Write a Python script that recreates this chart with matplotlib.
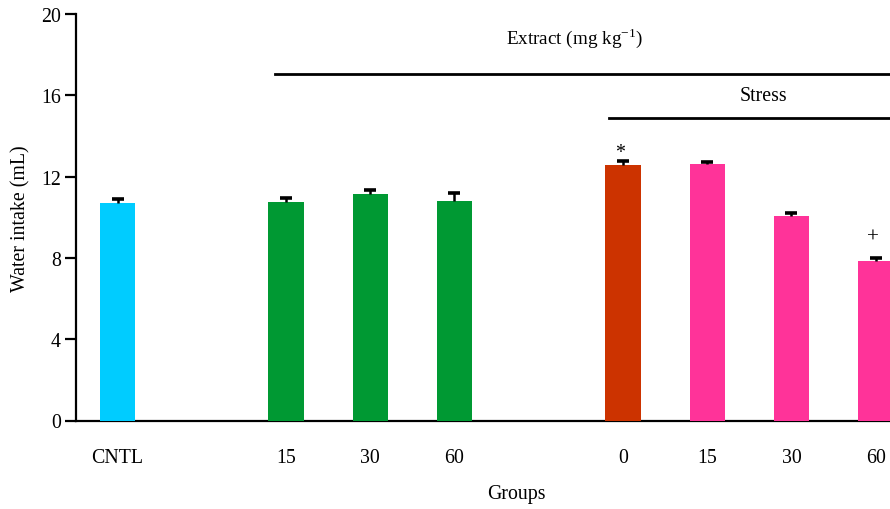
import matplotlib
matplotlib.use("Agg")
import matplotlib.pyplot as plt
import numpy as np

plt.rcParams['font.family'] = ['Liberation Serif', 'DejaVu Serif']
plt.rcParams['mathtext.fontset'] = 'custom'
plt.rcParams['mathtext.rm'] = 'Liberation Serif'

categories = ["CNTL", "15", "30", "60", "0", "15", "30", "60"]
positions = [0, 2, 3, 4, 6, 7, 8, 9]
values = [10.71, 10.74, 11.13, 10.79, 12.55, 12.63, 10.07, 7.85]
errors = [0.2, 0.2, 0.21, 0.4, 0.2, 0.08, 0.13, 0.13]
colors = ["#00CCFF", "#009933", "#009933", "#009933", "#CC3300", "#FF3399", "#FF3399", "#FF3399"]

FS = 14.3

fig = plt.figure(figsize=(8.9, 5.1), dpi=100)
ax = fig.add_axes([76/890, 1 - 421.5/510, 1 - 76/890, (421.5 - 15)/510])

ax.bar(positions, values, width=0.42, color=colors, zorder=3)
eb = ax.errorbar(positions, values, yerr=[np.zeros(len(values)), errors], fmt='none',
                 ecolor='black', elinewidth=1.8, capsize=4.5, capthick=2.6, zorder=4)
# hide the lower caps (one-sided error bars)
caps = eb[1]
if len(caps) == 2:
    caps[0].set_visible(False)

ax.set_xlim(-0.493, 9.17)
ax.set_ylim(0, 20)
ax.set_yticks([0, 4, 8, 12, 16, 20])
ax.set_xticks(positions)
ax.set_xticklabels(categories)
ax.tick_params(axis='x', length=0, pad=20, labelsize=FS)
ax.tick_params(axis='y', length=8, width=1.6, labelsize=FS, pad=3)

for s in ['top', 'right']:
    ax.spines[s].set_visible(False)
ax.spines['left'].set_linewidth(1.6)
ax.spines['bottom'].set_linewidth(1.6)

ax.set_ylabel("Water intake (mL)", fontsize=FS)
ax.yaxis.set_label_coords((21 - 76) / 814, 0.5)
ax.yaxis.label.set_va('center')
ax.set_xlabel("Groups", fontsize=FS)
ax.xaxis.set_label_coords((516 - 76) / 814, (421.5 - 495) / 406.5)
ax.xaxis.label.set_va('center')

# group lines
ax.plot([1.87, 9.17], [17.05, 17.05], color='black', lw=2, clip_on=False)
ax.plot([5.83, 9.17], [14.86, 14.86], color='black', lw=2, clip_on=False)
ax.text(5.43, 18.85, "Extract (mg kg$^{\\mathregular{-1}}$)", ha='center', va='center', fontsize=FS - 0.5)
ax.text(7.67, 15.97, "Stress", ha='center', va='center', fontsize=FS)

ax.text(5.97, 13.2, "*", ha='center', va='center', fontsize=FS)
ax.text(8.97, 9.0, "+", ha='center', va='center', fontsize=FS + 1)

fig.savefig("out.png", dpi=100)
